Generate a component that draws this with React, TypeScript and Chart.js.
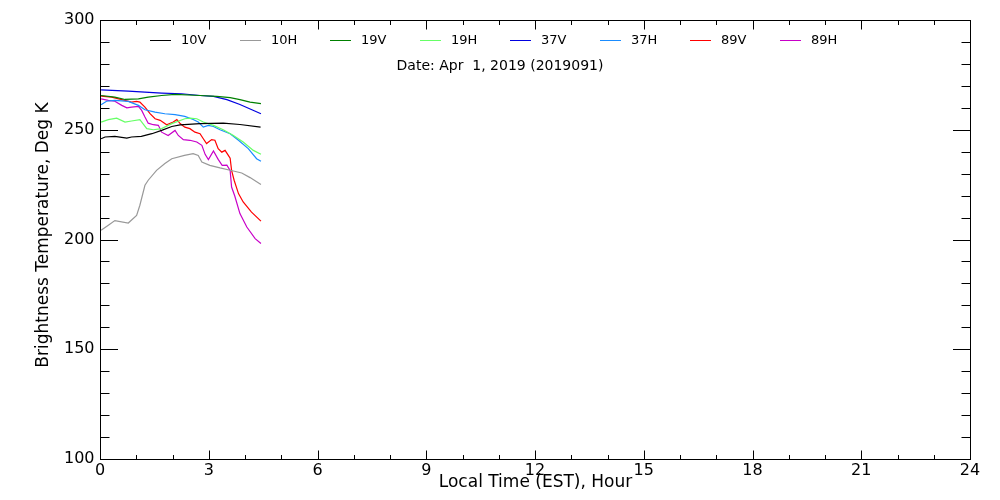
import React, { useEffect, useRef } from "react";
import { Chart, registerables } from "chart.js";

Chart.register(...registerables);

// ---- data (hours EST, brightness temperature K) ----
const labels = ["10V", "10H", "19V", "19H", "37V", "37H", "89V", "89H"];
const colors = ["#000000", "#999999", "#008000", "#66ff66", "#0000e0", "#1a8cff", "#ff0000", "#c800c8"];

const hours10V = [0.03, 0.14, 0.41, 0.74, 0.87, 1.14, 1.43, 1.7, 1.98, 2.21, 2.76, 3.4, 3.86, 4.43];
const tb10V = [245.9, 246.7, 247.0, 246.2, 246.7, 247.0, 248.2, 249.7, 251.5, 252.2, 252.8, 253.0, 252.4, 251.2];

const hours10H = [0.03, 0.23, 0.41, 0.78, 1.01, 1.1, 1.24, 1.33, 1.56, 1.79, 1.98, 2.33, 2.57, 2.71, 2.81, 3.03, 3.31, 3.68, 3.91, 4.14, 4.44];
const tb10H = [204.2, 206.5, 208.6, 207.5, 211.0, 215.6, 224.7, 227.0, 231.5, 234.6, 236.8, 238.3, 239.1, 238.3, 235.3, 233.8, 232.6, 231.2, 230.3, 228.2, 225.1];

const hours19V = [0.03, 0.41, 0.69, 1.06, 1.33, 1.7, 2.07, 2.76, 3.22, 3.59, 3.86, 4.14, 4.44];
const tb19V = [265.6, 264.9, 263.8, 264.1, 264.9, 265.6, 266.1, 265.6, 265.2, 264.6, 263.7, 262.6, 261.9];

const hours19H = [0.03, 0.23, 0.46, 0.69, 0.87, 1.1, 1.29, 1.47, 1.7, 1.98, 2.34, 2.48, 2.67, 2.85, 3.13, 3.4, 3.68, 3.95, 4.23, 4.44];
const tb19H = [253.5, 254.6, 255.3, 253.5, 254.0, 254.6, 250.5, 250.0, 250.5, 252.8, 255.0, 255.3, 255.0, 253.5, 252.0, 250.0, 247.4, 244.4, 240.6, 238.8];

const hours37V = [0.03, 0.78, 1.24, 1.7, 2.25, 2.76, 3.13, 3.5, 3.86, 4.19, 4.44];
const tb37V = [268.2, 267.6, 267.1, 266.7, 266.4, 265.6, 265.2, 263.7, 261.5, 259.1, 257.3];

const hours37H = [0.03, 0.18, 0.41, 0.78, 1.06, 1.24, 1.52, 1.79, 2.07, 2.34, 2.57, 2.71, 2.85, 2.99, 3.13, 3.31, 3.59, 3.82, 4.09, 4.32, 4.44];
const tb37H = [261.4, 263.0, 263.4, 262.9, 261.1, 259.1, 258.0, 257.3, 256.9, 256.1, 254.7, 253.5, 251.2, 252.0, 251.5, 250.0, 248.2, 245.2, 241.4, 236.8, 235.6];

const hours89V = [0.03, 0.32, 0.6, 0.87, 1.01, 1.1, 1.24, 1.38, 1.52, 1.66, 1.84, 2.02, 2.12, 2.21, 2.34, 2.48, 2.62, 2.76, 2.85, 2.94, 3.08, 3.17, 3.26, 3.36, 3.45, 3.54, 3.59, 3.63, 3.7, 3.82, 3.95, 4.18, 4.44];
const tb89V = [265.3, 264.9, 263.7, 262.6, 262.9, 262.6, 260.3, 257.3, 255.0, 254.3, 252.3, 253.5, 254.6, 252.8, 251.2, 250.5, 248.9, 248.2, 245.9, 243.7, 245.5, 245.2, 241.4, 239.8, 240.6, 238.3, 237.0, 231.5, 227.0, 220.9, 217.1, 212.5, 208.4];

const hours89H = [0.03, 0.23, 0.41, 0.6, 0.74, 0.87, 1.06, 1.15, 1.24, 1.33, 1.47, 1.61, 1.7, 1.88, 2.07, 2.16, 2.3, 2.48, 2.67, 2.81, 2.9, 2.99, 3.13, 3.26, 3.37, 3.5, 3.59, 3.63, 3.72, 3.86, 4.05, 4.28, 4.44];
const tb89H = [264.1, 263.4, 263.0, 261.1, 260.0, 260.3, 260.6, 258.8, 255.8, 253.0, 252.3, 252.0, 248.9, 247.4, 249.7, 247.4, 245.5, 245.2, 244.4, 242.9, 238.8, 236.4, 240.3, 236.5, 233.8, 233.9, 231.5, 223.9, 219.7, 211.8, 205.7, 200.4, 198.2];

const seriesHours = [hours10V, hours10H, hours19V, hours19H, hours37V, hours37H, hours89V, hours89H];
const seriesTb = [tb10V, tb10H, tb19V, tb19H, tb37V, tb37H, tb89V, tb89H];

const xTickLabels = ["0", "3", "6", "9", "12", "15", "18", "21", "24"];
const yTickLabels = ["100", "150", "200", "250", "300"];
const dateText = "Date: Apr  1, 2019 (2019091)";
const xTitle = "Local Time (EST), Hour";
const yTitle = "Brightness Temperature, Deg K";

const FONT = "'DejaVu Sans', sans-serif";

const framePlugin = {
  id: "idlFrame",
  afterDraw(chart: any) {
    const { ctx, chartArea, scales } = chart;
    const xs = scales.x;
    const ys = scales.y;
    const L = Math.round(chartArea.left) + 0.5;
    const R = Math.round(chartArea.right) + 0.5;
    const T = Math.round(chartArea.top) + 0.5;
    const B = Math.round(chartArea.bottom) + 0.5;
    ctx.save();
    ctx.strokeStyle = "#000";
    ctx.lineWidth = 1;
    ctx.strokeRect(L, T, R - L, B - T);
    ctx.beginPath();
    // x ticks
    for (let h = 0; h <= 24; h++) {
      const px = Math.round(xs.getPixelForValue(h)) + 0.5;
      const len = h % 3 === 0 ? 9 : 4.5;
      ctx.moveTo(px, B);
      ctx.lineTo(px, B - len);
      ctx.moveTo(px, T);
      ctx.lineTo(px, T + len);
    }
    // y ticks
    for (let v = 100; v <= 300; v += 10) {
      const py = Math.round(ys.getPixelForValue(v)) + 0.5;
      const len = v % 50 === 0 ? 17.5 : 9;
      ctx.moveTo(L, py);
      ctx.lineTo(L + len, py);
      ctx.moveTo(R, py);
      ctx.lineTo(R - len, py);
    }
    ctx.stroke();

    ctx.fillStyle = "#000";
    ctx.font = `16px ${FONT}`;
    ctx.textAlign = "center";
    ctx.textBaseline = "top";
    xTickLabels.forEach((t) => {
      ctx.fillText(t, xs.getPixelForValue(Number(t)), B + 3);
    });
    ctx.textAlign = "right";
    ctx.textBaseline = "middle";
    yTickLabels.forEach((t) => {
      ctx.fillText(t, L - 6, ys.getPixelForValue(Number(t)));
    });
    // titles
    ctx.font = `17px ${FONT}`;
    ctx.textAlign = "center";
    ctx.textBaseline = "middle";
    ctx.fillText(xTitle, (L + R) / 2, 483);
    ctx.save();
    ctx.translate(44, (T + B) / 2 - 5);
    ctx.rotate(-Math.PI / 2);
    ctx.fillText(yTitle, 0, 0);
    ctx.restore();

    // legend
    ctx.font = `13px ${FONT}`;
    ctx.textAlign = "left";
    ctx.textBaseline = "middle";
    chart.data.datasets.forEach((ds: any, i: number) => {
      const x0 = 150 + 90 * i;
      ctx.strokeStyle = ds.borderColor;
      ctx.beginPath();
      ctx.moveTo(x0, 40.5);
      ctx.lineTo(x0 + 21, 40.5);
      ctx.stroke();
      ctx.fillStyle = "#000";
      ctx.fillText(ds.label, x0 + 31, 41);
    });
    ctx.font = `14px ${FONT}`;
    ctx.textAlign = "center";
    ctx.fillText(dateText, 500, 66);
    ctx.restore();
  },
};

export default function App() {
  const ref = useRef<HTMLCanvasElement | null>(null);
  useEffect(() => {
    document.body.style.margin = "0";
    const canvas = ref.current!;
    const datasets = labels.map((lab, i) => ({
      label: lab,
      data: seriesHours[i].map((h, k) => ({ x: h, y: seriesTb[i][k] })),
      borderColor: colors[i],
      backgroundColor: colors[i],
      borderWidth: 1.2,
      pointRadius: 0,
      tension: 0,
      fill: false,
    }));
    const chart = new Chart(canvas, {
      type: "line",
      data: { datasets },
      options: {
        animation: false,
        responsive: false,
        devicePixelRatio: 1,
        layout: { padding: { left: 100, top: 20, right: 30, bottom: 41 } },
        scales: {
          x: { type: "linear", min: 0, max: 24, display: false },
          y: { type: "linear", min: 100, max: 300, display: false },
        },
        plugins: { legend: { display: false }, tooltip: { enabled: false } },
      },
      plugins: [framePlugin],
    });
    return () => chart.destroy();
  }, []);
  return (
    <div style={{ width: 1000, height: 500, background: "#fff" }}>
      <canvas ref={ref} width={1000} height={500} style={{ display: "block" }} />
    </div>
  );
}
